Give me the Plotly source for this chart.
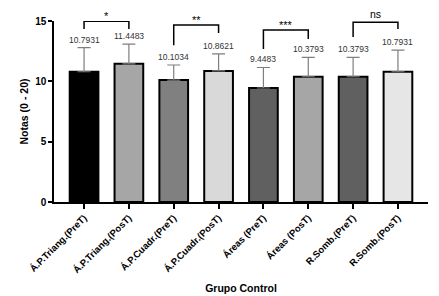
import plotly.graph_objects as go

categories = ["Á.P.Triang.(PreT)", "Á.P.Triang.(PosT)", "Á.P.Cuadr.(PreT)", "Á.P.Cuadr.(PosT)",
              "Áreas (PreT)", "Áreas (PosT)", "R.Somb.(PreT)", "R.Somb.(PosT)"]
means = [10.7931, 11.4483, 10.1034, 10.8621, 9.4483, 10.3793, 10.3793, 10.7931]
sds = [2.0, 1.63, 1.25, 1.42, 1.7, 1.6, 1.6, 1.8]
bar_colors = ["#000000", "#a6a6a6", "#808080", "#d9d9d9", "#606060", "#a6a6a6", "#606060", "#e6e6e6"]

# significance brackets: (left index, right index, top, left leg bottom, right leg bottom, label)
brackets = [
    (0, 1, 14.98, 14.33, 14.33, "*"),
    (2, 3, 14.66, 13.0, 14.0, "**"),
    (4, 5, 14.25, 12.68, 13.5, "***"),
    (6, 7, 14.9, 13.67, 14.33, "ns"),
]

yticks = [0, 5, 10, 15]
YMAX = 15

fig = go.Figure()
fig.add_trace(go.Bar(
    x=list(range(len(categories))), y=means,
    marker=dict(color=bar_colors, line=dict(color="black", width=2)),
    width=0.64,
    error_y=dict(type="data", array=sds, arrayminus=[0] * len(sds), symmetric=False, visible=True,
                 color="#7f7f7f", thickness=1.2, width=6.5),
    showlegend=False,
))

for i, (m, s) in enumerate(zip(means, sds)):
    fig.add_annotation(x=i, y=m + s, text=f"{m:.4f}", showarrow=False, yanchor="bottom", yshift=1,
                       font=dict(size=8.5, color="#333333", family="Liberation Sans"))

for li, ri, top, lb, rb, lab in brackets:
    fig.add_shape(type="path", xref="x", yref="y",
                  path=f"M {li},{lb} L {li},{top} L {ri},{top} L {ri},{rb}",
                  line=dict(color="black", width=1.5))
    fig.add_annotation(x=(li + ri) / 2, xref="x", y=top / YMAX, yref="paper", text=lab, showarrow=False,
                       yanchor="bottom", yshift=(0 if lab == "ns" else -3),
                       font=dict(size=11 if lab != "ns" else 10.5, color="black", family="Liberation Sans"))

# page body has an 8px default margin, so the figure is sized/offset to compensate
fig.update_layout(
    width=431, height=288,
    margin=dict(l=46, r=11, t=13, b=94, autoexpand=False),
    plot_bgcolor="white", paper_bgcolor="white",
    font=dict(family="Liberation Sans", color="black"),
    xaxis=dict(
        range=[-0.67, 7.67], showline=True, linecolor="black", linewidth=1.5,
        ticks="outside", ticklen=5, tickwidth=1.5, tickcolor="black",
        tickangle=-45, tickfont=dict(size=9.5, family="Liberation Sans", color="black"),
        tickvals=list(range(len(categories))), ticktext=[f"<b>{c}</b>" for c in categories],
        title=dict(text="<b>Grupo Control</b>", font=dict(size=10.5), standoff=10),
        showgrid=False, automargin=False,
    ),
    yaxis=dict(
        range=[0, YMAX], showline=True, linecolor="black", linewidth=1.5,
        ticks="outside", ticklen=4, tickwidth=1.5, tickcolor="black",
        tickvals=yticks, ticktext=[f"<b>{t}</b>" for t in yticks], tickfont=dict(size=10),
        showgrid=False, zeroline=False, automargin=False,
        title=dict(text="<b>Notas (0 - 20)</b>", font=dict(size=10.5), standoff=4),
    ),
)
fig.write_html("out.html")
